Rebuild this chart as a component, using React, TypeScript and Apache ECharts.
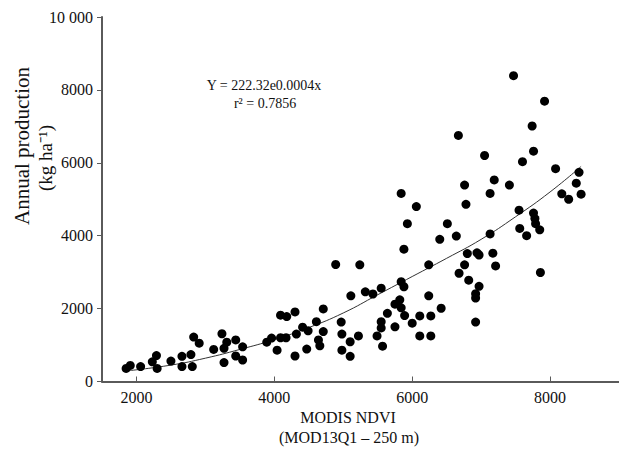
import React, { useEffect, useRef } from "react";
import * as echarts from "echarts";

// Scatter: MODIS NDVI (x) vs annual production (y)
const ndvi: number[] = [
  1850, 1910, 2060, 2230, 2290, 2300, 2500, 2660, 2660, 2790,
  2810, 2830, 2910, 3120, 3240, 3270, 3270, 3310, 3440, 3440,
  3540, 3540, 3890, 3960, 4040, 4090, 4090, 4180, 4170, 4300,
  4300, 4320, 4410, 4470, 4490, 4610, 4660, 4640, 4710, 4710,
  4890, 4970, 4980, 4980, 5110, 5100, 5100, 5220, 5240, 5320,
  5430, 5550, 5640, 5550, 5550, 5490, 5570, 5750, 5750, 5820,
  5840, 5880, 5840, 5890, 6000, 6110, 6110, 6270, 6270, 6240,
  6420, 6240, 5840, 6060, 5930, 5880, 6400, 6510, 6640, 6670,
  6760, 6780, 7050, 7190, 7410, 7130, 7130, 6800, 6940, 6970,
  7170, 7210, 6760, 6680, 6820, 6970, 6920, 6920, 6920, 7470,
  7920, 7740, 7760, 7600, 8080, 8420, 8380, 8450, 8170, 8270,
  7550, 7760, 7780, 7790, 7850, 7560, 7660, 7860,
];
const production: number[] = [
  360, 440, 410, 540, 710, 360, 560, 690, 410, 740,
  410, 1220, 1050, 880, 1310, 910, 520, 1080, 1140, 700,
  950, 590, 1080, 1190, 860, 1200, 1820, 1780, 1200, 1910,
  700, 1300, 1490, 890, 1390, 1640, 980, 1140, 1990, 1370,
  3210, 1630, 1300, 860, 2350, 1090, 690, 1250, 3200, 2460,
  2400, 2560, 1870, 1640, 1470, 1250, 970, 2120, 1500, 2240,
  2740, 2600, 2020, 1810, 1600, 1800, 1250, 1800, 1250, 2350,
  2010, 3200, 5160, 4800, 4330, 3630, 3900, 4330, 3990, 6750,
  5390, 4860, 6200, 5530, 5390, 5160, 4050, 3510, 3530, 3470,
  3520, 3170, 3200, 2970, 2780, 2610, 2410, 2290, 1630, 8390,
  7690, 7010, 6320, 6030, 5840, 5740, 5440, 5140, 5150, 5000,
  4700, 4620, 4470, 4330, 4160, 4200, 4000, 2990,
];

// Fitted curve as drawn in the figure
const trendX: number[] = [1900, 2500, 3000, 3500, 4000, 4500, 5000, 5500, 6000, 6500, 7000, 7500, 8000, 8450];
const trendY: number[] = [300, 450, 640, 880, 1150, 1480, 1880, 2380, 2880, 3380, 3900, 4520, 5200, 5900];

const xTicks: number[] = [2000, 4000, 6000, 8000];

const equationLines: string[] = ["Y = 222.32e0.0004x", "r² = 0.7856"];
const yTitleLines: string[] = ["Annual production", "(kg ha⁻¹)"];
const xTitleLines: string[] = ["MODIS NDVI", "(MOD13Q1 – 250 m)"];

const FONT = "'Liberation Serif', 'Times New Roman', serif";

export default function App() {
  const ref = useRef<HTMLDivElement>(null);
  useEffect(() => {
    if (!ref.current) return;
    const chart = echarts.init(ref.current, undefined, { renderer: "svg" });
    const axisColor = "#5a5a5a";
    chart.setOption({
      animation: false,
      backgroundColor: "#ffffff",
      grid: { left: 102, top: 17, right: -3, bottom: 69.5, containLabel: false },
      xAxis: {
        type: "value",
        min: 1500,
        max: 9000,
        splitLine: { show: false },
        axisLine: { show: true, onZero: false, lineStyle: { color: axisColor, width: 2 } },
        axisTick: { show: true, inside: true, length: 5, customValues: xTicks, lineStyle: { color: axisColor, width: 1 } },
        axisLabel: {
          customValues: xTicks,
          margin: 8,
          color: "#111",
          fontFamily: FONT,
          fontSize: 16,
          formatter: (v: number) => String(v),
        },
      },
      yAxis: {
        type: "value",
        min: 0,
        max: 10000,
        interval: 2000,
        splitLine: { show: false },
        axisLine: { show: true, lineStyle: { color: axisColor, width: 2 } },
        axisTick: { show: true, inside: false, length: 5, lineStyle: { color: axisColor, width: 1 } },
        axisLabel: {
          margin: 9,
          color: "#111",
          fontFamily: FONT,
          fontSize: 16,
          formatter: (v: number) => (v === 10000 ? "10 000" : String(v)),
        },
      },
      graphic: [
        {
          type: "text",
          x: 264,
          y: 85,
          style: { text: equationLines[0], font: `14px ${FONT}`, fill: "#111", textAlign: "center", textVerticalAlign: "middle" },
        },
        {
          type: "text",
          x: 265,
          y: 103,
          style: { text: equationLines[1], font: `14px ${FONT}`, fill: "#111", textAlign: "center", textVerticalAlign: "middle" },
        },
        {
          type: "text",
          x: 22,
          y: 146,
          rotation: Math.PI / 2,
          style: { text: yTitleLines[0], font: `21px ${FONT}`, fill: "#111", textAlign: "center", textVerticalAlign: "middle" },
        },
        {
          type: "text",
          x: 45,
          y: 158,
          rotation: Math.PI / 2,
          style: { text: yTitleLines[1], font: `19px ${FONT}`, fill: "#111", textAlign: "center", textVerticalAlign: "middle" },
        },
        {
          type: "text",
          x: 348,
          y: 417,
          style: { text: xTitleLines[0], font: `16px ${FONT}`, fill: "#111", textAlign: "center", textVerticalAlign: "middle" },
        },
        {
          type: "text",
          x: 349,
          y: 437,
          style: { text: xTitleLines[1], font: `16px ${FONT}`, fill: "#111", textAlign: "center", textVerticalAlign: "middle" },
        },
      ],
      series: [
        {
          type: "line",
          data: trendX.map((x, i) => [x, trendY[i]]),
          smooth: true,
          showSymbol: false,
          symbol: "none",
          lineStyle: { color: "#333", width: 1 },
          z: 1,
        },
        {
          type: "scatter",
          data: ndvi.map((x, i) => [x, production[i]]),
          symbol: "circle",
          symbolSize: 9,
          itemStyle: { color: "#000", opacity: 1 },
          z: 2,
        },
      ],
    });
    return () => chart.dispose();
  }, []);
  return <div ref={ref} style={{ position: "fixed", left: 0, top: 0, width: 619, height: 451 }} />;
}
